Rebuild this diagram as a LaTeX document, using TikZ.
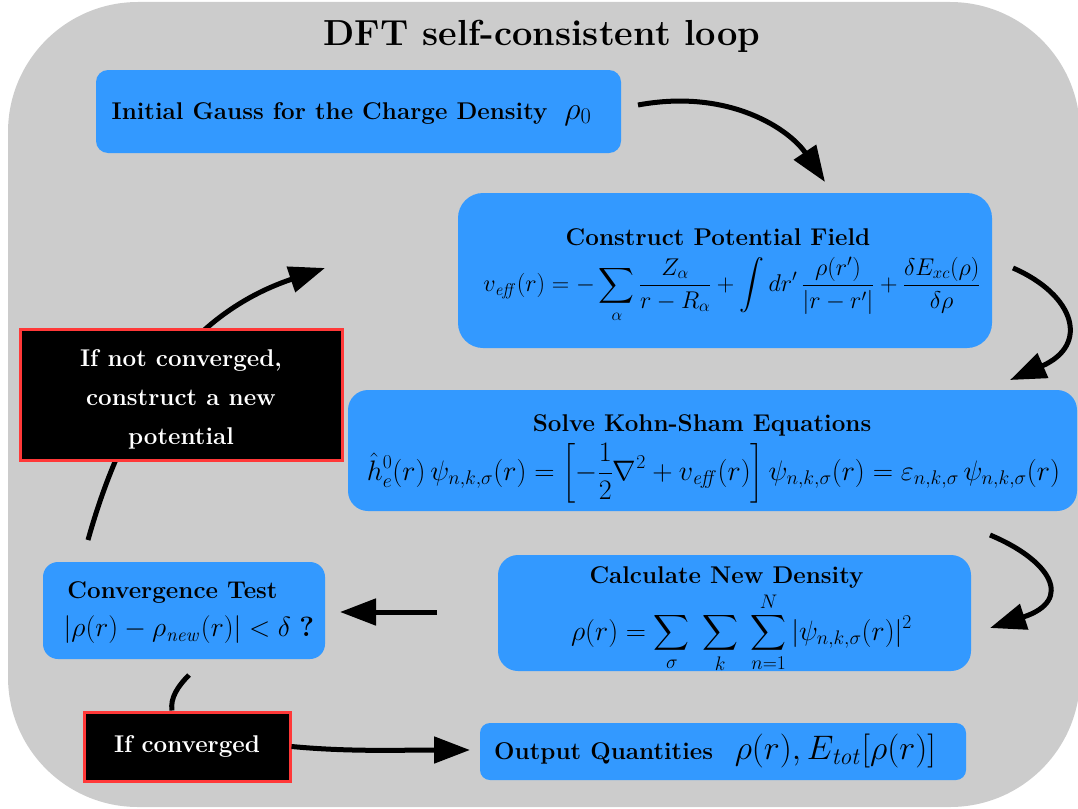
\RequirePackage{fix-cm}
\documentclass[tikz,border=0pt]{standalone}
\usepackage{amsmath}
\usetikzlibrary{arrows.meta}
\definecolor{bggray}{HTML}{CCCCCC}
\definecolor{boxblue}{HTML}{3399FF}
\definecolor{redb}{HTML}{FF3838}
\begin{document}
\begin{tikzpicture}[x=1pt,y=-1pt,
  bluebox/.style={fill=boxblue, draw=none, inner sep=0pt},
  blackbox/.style={fill=black, draw=redb, line width=3pt, inner sep=0pt, text=white,
    font=\fontsize{24.2}{39}\selectfont\bfseries, align=center},
  lbl/.style={font=\fontsize{24.2}{28}\selectfont\bfseries, inner sep=0pt},
  eqn/.style={inner sep=0pt},
  flow/.style={line width=5pt, -{Triangle[length=36pt,width=26pt]}},
  link/.style={line width=5pt}
]
\useasboundingbox (0,0) rectangle (1078,808);
\fill[bggray, rounded corners=130pt] (8,2) rectangle (1080,807);

\node[font=\fontsize{36.2}{40}\selectfont\bfseries, inner sep=0pt] (title) at (542,36) {DFT self-consistent loop};

% blue boxes
\node[bluebox, rounded corners=12pt, minimum width=525pt, minimum height=83pt, lbl,
  text height=18pt, text depth=3pt] (b1) at (358.5,111.5)
  {Initial Gauss for the Charge Density\hspace{0.7em}{\fontsize{32}{34}\selectfont$\rho_0$}\kern14pt\hbox{}};
\node[bluebox, rounded corners=25pt, minimum width=534pt, minimum height=155pt] (b2) at (725,270.5) {};
\node[bluebox, rounded corners=20pt, minimum width=729pt, minimum height=121pt] (b3) at (712.5,450.5) {};
\node[bluebox, rounded corners=20pt, minimum width=473pt, minimum height=116pt] (b4) at (734.5,613) {};
\node[bluebox, rounded corners=15pt, minimum width=282pt, minimum height=97pt] (b5) at (184,610.5) {};
\node[bluebox, rounded corners=10pt, minimum width=486pt, minimum height=57pt, lbl,
  text height=18pt, text depth=2pt] (b6) at (723,751.5)
  {Output Quantities\hspace{0.9em}{\fontsize{34}{36}\selectfont$\rho(r),E_{\mathit{tot}}[\rho(r)]$}\kern16pt\hbox{}};

% texts inside the two-line boxes
\node[lbl] (t2) at (718,237) {Construct Potential Field};
\node[eqn, font=\fontsize{24.2}{28}\selectfont] (e2) at (732,290) {$\displaystyle v_{\mathit{eff}}(r)=-\sum_{\alpha}\frac{Z_\alpha}{r-R_\alpha}+\int dr'\,\frac{\rho(r')}{|r-r'|}+\frac{\delta E_{xc}(\rho)}{\delta\rho}$};
\node[lbl] (t3) at (702,425) {Solve Kohn-Sham Equations};
\node[eqn, font=\fontsize{28.2}{30}\selectfont] (e3) at (713.5,473) {$\displaystyle \hat{h}^0_e(r)\,\psi_{n,k,\sigma}(r)=\Bigl[-\frac{1}{2}\nabla^2+v_{\mathit{eff}}(r)\Bigr]\,\psi_{n,k,\sigma}(r)=\varepsilon_{n,k,\sigma}\,\psi_{n,k,\sigma}(r)$};
\node[lbl] (t4) at (726.5,577) {Calculate New Density};
\node[eqn, font=\fontsize{28}{30}\selectfont] (e4) at (741.5,633) {$\displaystyle \rho(r)=\sum_{\sigma}\;\sum_{k}\;\sum_{n=1}^{N}|\psi_{n,k,\sigma}(r)|^2$};
\node[lbl] (t5) at (172.5,592) {Convergence Test};
\node[eqn, font=\fontsize{27.8}{30}\selectfont] (e5) at (189,630) {$|\rho(r)-\rho_{\mathit{new}}(r)|<\delta$\ \textbf{?}};

% connectors
\coordinate (a1s) at (638,105);
\coordinate (a1e) at (825,182);
\coordinate (a2s) at (1013,268);
\coordinate (a2e) at (1010,380);
\coordinate (a3s) at (990,535);
\coordinate (a3e) at (990,628);
\coordinate (a4s) at (437,612);
\coordinate (a4e) at (340,612);
\coordinate (a5s) at (189,675);
\coordinate (a7s) at (88,540);
\coordinate (a7e) at (325,268);
\coordinate (a6e) at (470,750);

\draw[flow] (a1s) .. controls (730,88) and (790,130) .. (a1e);
\draw[flow] (a2s) .. controls (1075,295) and (1090,345) .. (a2e);
\draw[flow] (a3s) .. controls (1050,560) and (1075,600) .. (a3e);
\draw[flow] (a4s) -- (a4e);
\draw[flow] (a7s) .. controls (130,390) and (200,310) .. (a7e);

% black boxes
\node[blackbox, minimum width=322pt, minimum height=131pt] (c1) at (181,394.5)
  {\rule{0pt}{26pt}If not converged,\\construct a new\\potential};
\node[blackbox, minimum width=206pt, minimum height=69pt] (c2) at (187,746.5) {If converged};

\draw[link] (a5s) .. controls (178,686) and (170,698) .. ([xshift=-15pt]c2.north);
\draw[flow] (c2.east) .. controls (350,752) and (400,750) .. (a6e);
\end{tikzpicture}
\end{document}
